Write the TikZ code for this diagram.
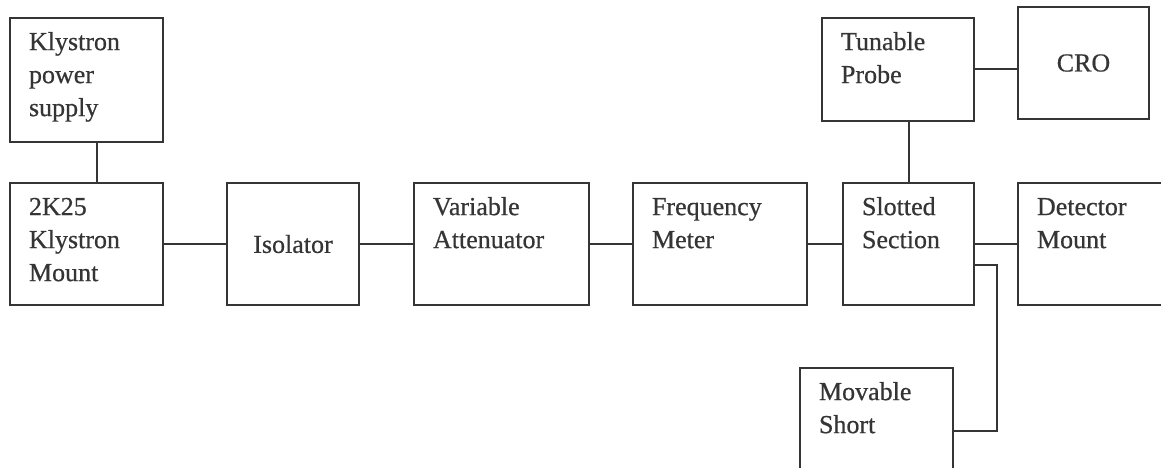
\documentclass[tikz,border=0pt]{standalone}
\usepackage{fontspec}
\setmainfont{Liberation Serif}[FakeBold=0.6]
\definecolor{ink}{HTML}{353535}
% top-left aligned label inside a fixed-size block
\newcommand\toptext[3]{\parbox[c][#2][t]{#1}{\vspace*{9pt}\leftskip=19pt\rightskip=0pt plus 1fil\parindent=0pt\strut #3}}
% centred label inside a fixed-size block
\newcommand\midtext[3]{\parbox[c][#2][c]{#1}{\centering #3}}
\tikzset{
  block/.style={draw=ink, line width=2pt, inner sep=0pt, outer sep=0pt,
    anchor=north west, text=ink, font=\fontsize{26}{33}\selectfont},
  wire/.style={draw=ink, line width=2pt}
}
\begin{document}
\begin{tikzpicture}[x=1pt, y=-1pt]
\path[use as bounding box] (0,0) rectangle (1161,468);
\clip (0,0) rectangle (1161,468);

% main waveguide chain
\node[block] (ps)    at (10,18)   {\toptext{153pt}{124pt}{Klystron\\power\\supply}};
\node[block] (mount) at (10,183)  {\toptext{153pt}{122pt}{2K25\\Klystron\\Mount}};
\node[block] (iso)   at (227,183) {\midtext{132pt}{122pt}{Isolator}};
\node[block] (att)   at (414,183) {\toptext{175pt}{122pt}{Variable\\Attenuator}};
\node[block] (fm)    at (633,183) {\toptext{174pt}{122pt}{Frequency\\Meter}};
\node[block] (slot)  at (843,183) {\toptext{131pt}{122pt}{Slotted\\Section}};
\node[block] (det)   at (1018,183){\toptext{170pt}{122pt}{Detector\\Mount}};

% probe, display and short
\node[block] (probe) at (822,18)  {\toptext{152pt}{103pt}{Tunable\\Probe}};
\node[block] (cro)   at (1018,7)  {\midtext{131pt}{112pt}{CRO}};
\node[block] (short) at (800,368) {\toptext{153pt}{126pt}{Movable\\Short}};

% connections
\coordinate (psfoot) at ([xshift=87pt]ps.south west);
\draw[wire] (psfoot) -- (psfoot |- mount.north);
\draw[wire] (mount.east) -- (iso.west);
\draw[wire] (iso.east) -- (att.west);
\draw[wire] (att.east) -- (fm.west);
\draw[wire] (fm.east) -- (slot.west);
\draw[wire] (slot.east) -- (det.west);
\draw[wire] (probe.east) -- (probe.east -| cro.west);
\draw[wire] (slot.north) -- (slot.north |- probe.south);
\draw[wire] ([yshift=-21pt]slot.east) -| ([xshift=44pt]short.east) -- (short.east);
\end{tikzpicture}
\end{document}
